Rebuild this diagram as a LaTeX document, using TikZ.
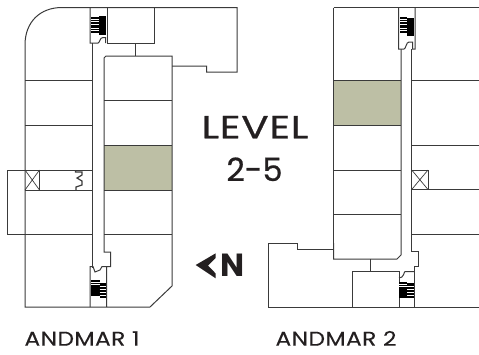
\documentclass[tikz,border=0pt]{standalone}
\usepackage{fontspec}
\setmainfont{Poppins}
\newfontfamily\bigfont[FakeStretch=1.27,FakeBold=0.6,LetterSpace=2]{Poppins}
\newfontfamily\rangefont[FakeBold=0.6]{Poppins}
\newfontfamily\labelfont[FakeStretch=1.17,FakeBold=0.2,LetterSpace=2]{Poppins}
\definecolor{wall}{HTML}{3A3A3A}
\definecolor{unit}{HTML}{BDBFA5}
\definecolor{ink}{HTML}{231F20}
\newcommand{\stairblock}[5]{%
  \fill[black] (#1,#3) rectangle (#2,#4);
  \foreach \yy in {#5} \draw[white,line width=.7pt] (#1,\yy) -- (#2,\yy);
}
\tikzset{
  wallline/.style={draw=wall,line width=1pt,line join=miter},
  thinwall/.style={draw=wall,line width=.7pt},
  label/.style={inner sep=0pt,text=ink,anchor=base,font=\labelfont\fontsize{20}{22}\selectfont},
  bigtext/.style={inner sep=0pt,text=ink,anchor=base,font=\bigfont\fontsize{32}{34}\selectfont},
  rangetext/.style={inner sep=0pt,text=ink,anchor=base,font=\rangefont\fontsize{32}{34}\selectfont},
}
\begin{document}
\begin{tikzpicture}[x=1pt,y=-1pt]
\useasboundingbox (0,0) rectangle (479,354);
% shaded units
\fill[unit] (104,145) rectangle (172,190.5);
\fill[unit] (333.5,80) rectangle (401,125);
% --- ANDMAR 1 ---
\draw[wallline] (25,234.5) -- (25,45) .. controls (25,22) and (40,7.5) .. (62,7.5) -- (237,7.5) -- (237,72) -- (206.7,72) -- (206.7,66) -- (172,66);
\draw[wallline] (25,234.5) -- (25,307) -- (150,307) -- (172,286) -- (172,56) -- (106,56) -- (104,58) -- (104,252) -- (110.5,252) -- (110.5,266.5) -- (106.5,266.5) -- (106.5,307);
\draw[wallline] (92.7,43) -- (92.7,268);
\draw[wallline] (135,43) -- (135,56);
\draw[wallline] (107,7.5) -- (107,43) -- (154,43) -- (154,7.5);
\draw[wallline] (90,7.5) -- (90,43) -- (98,43) .. controls (100,43) and (99.5,37.5) .. (103,37.5) -- (105.5,37.5) -- (105.5,43);
\draw[wallline] (25,80) -- (92.7,80) (25,125) -- (92.7,125);
\draw[wallline] (104,100) -- (172,100) (104,145) -- (172,145) (104,190.5) -- (172,190.5) (104,234.5) -- (172,234.5);
\draw[wallline] (25,190) -- (92.7,190) (7,234.5) -- (92.7,234.5);
\draw[wallline] (92.7,170) -- (7,170) -- (7,234.5);
\draw[wallline] (39.5,170) -- (39.5,190);
\draw[thinwall] (25,170) -- (39.5,190) (39.5,170) -- (25,190);
\draw[wallline,line width=1.2pt] (75.5,170) -- (75.5,172) -- (82,172) -- (82,175) -- (77,178) -- (82,181) -- (82,185) -- (76,187) -- (76,190);
\draw[wallline] (90,307) -- (90,266.5) -- (93,266.5) -- (95,272) -- (100,270) -- (102,266.5) -- (106.5,266.5);
\stairblock{91}{98.5}{17}{33}{19,21.5,24,28,30.5}
\stairblock{98.5}{106}{16}{35}{}
\stairblock{91}{99.5}{280}{296}{282,284}
\stairblock{99.5}{106}{283}{298}{286,289,292,295}
% --- ANDMAR 2 ---
\draw[wallline] (333.5,7.5) -- (479,7.5);
\draw[wallline] (333.5,7.5) -- (333.5,243);
\draw[wallline] (333.5,243) -- (333.5,259) -- (397,259) -- (401,255) -- (401,49);
\draw[wallline] (333.5,249) -- (297.5,249) -- (297.5,243) -- (268.7,243) -- (268.7,307) -- (479,307);
\draw[wallline] (370,259) -- (370,271.5);
\draw[wallline] (352,307) -- (352,271.5) -- (399,271.5) -- (399,307);
\draw[wallline] (399,278) .. controls (404,278) and (404,271.5) .. (405,271.5) -- (414.5,271.5);
\draw[wallline] (414.5,307) -- (414.5,266) -- (418,266) -- (418,251) -- (411.7,251) -- (411.7,49);
\draw[wallline] (398.5,7.5) -- (398.5,49) -- (404,49) .. controls (406,49) and (406,42) .. (409,42) -- (412.5,42) -- (412.5,49) -- (415,49) -- (415,7.5);
\draw[wallline] (333.5,80) -- (401,80) (333.5,125) -- (401,125) (333.5,170) -- (401,170) (333.5,214.5) -- (401,214.5);
\draw[wallline] (411.7,80) -- (479,80) (411.7,145) -- (479,145) (411.7,189.5) -- (479,189.5) (411.7,234.5) -- (479,234.5);
\draw[wallline] (411.7,170) -- (428,170) -- (428,189.5);
\draw[thinwall] (411.7,170) -- (428,189.5) (428,170) -- (411.7,189.5);
\stairblock{399.5}{406.5}{17}{33}{19,21.5,24,28,30.5}
\stairblock{406.5}{414}{18}{36}{}
\stairblock{399}{407}{282}{298}{284,286.5}
\stairblock{407}{414}{283}{298}{286,289,292,295}
% --- texts ---
\node[bigtext] (level) at (255,138.3) {LEVEL};
\node[rangetext] (range) at (254.5,181) {2-5};
\node[label] (a1) at (82,345.7) {ANDMAR 1};
\node[label] (a2) at (336,345.7) {ANDMAR 2};
\fill[ink] (195.7,265) -- (215.7,253.3) -- (215.7,258) -- (208,265.5) -- (215.7,273.5) -- (215.7,278.3) -- cycle;
\node[inner sep=0pt,text=ink,anchor=base,font=\fontsize{32}{33}\selectfont\bfseries] (north) at (232.5,276.7) {N};
\end{tikzpicture}
\end{document}
